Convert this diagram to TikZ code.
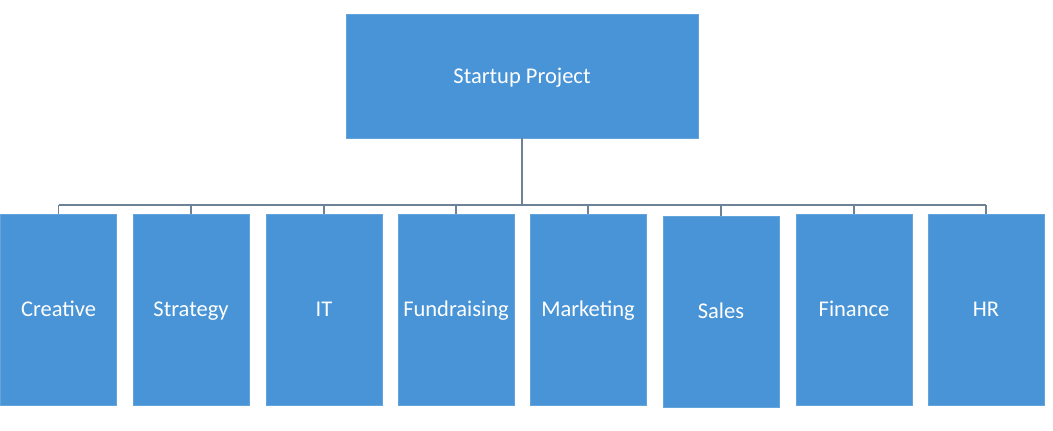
\documentclass[tikz,border=0pt]{standalone}
\usepackage{fontspec}
\setmainfont{Carlito}
\definecolor{boxblue}{RGB}{72,148,214}
\definecolor{linegray}{RGB}{110,130,150}
\begin{document}
\begin{tikzpicture}[x=0.025cm,y=-0.025cm,
    unit/.style={fill=boxblue,draw=boxblue!85!white,line width=0.02cm,text=white,
      font=\fontsize{16}{19}\selectfont,inner sep=0pt,text height=10.3pt,text depth=0pt},
    head/.style={unit,minimum width=8.8cm,minimum height=3.1cm},
    dept/.style={unit,minimum width=2.9cm,minimum height=4.775cm},
    link/.style={draw=linegray,line width=0.045cm}]
% page frame, in pixels of the reference
\useasboundingbox (0,0) rectangle (1053,431);
\fill[white] (0,0) rectangle (1053,431);

% Marking the top box
\node[head] (top) at (522,76) {Startup Project};

% Marking the department boxes
\node[dept] (creative) at (58.5,309.5) {Creative};
\node[dept] (strategy) at (191,309.5) {Strategy};
\node[dept] (it) at (324,309.5) {IT};
\node[dept] (fund) at (456,309.5) {Fundraising};
\node[dept] (marketing) at (588,309.5) {Marketing};
\node[dept] (sales) at (721,311.5) {Sales};
\node[dept] (finance) at (854,309.5) {Finance};
\node[dept] (hr) at (986,309.5) {HR};

% Drawing the bus line
\coordinate (busL) at (58.5,205);
\coordinate (busR) at (986,205);
\draw[link] (busL) -- (busR);
\draw[link] (top.south) -- (top.south |- busL);

% Drawing the drops to each box
\draw[link] (creative.north) -- (creative.north |- busL);
\draw[link] (strategy.north) -- (strategy.north |- busL);
\draw[link] (it.north) -- (it.north |- busL);
\draw[link] (fund.north) -- (fund.north |- busL);
\draw[link] (marketing.north) -- (marketing.north |- busL);
\draw[link] (sales.north) -- (sales.north |- busL);
\draw[link] (finance.north) -- (finance.north |- busL);
\draw[link] (hr.north) -- (hr.north |- busL);
\end{tikzpicture}
\end{document}
